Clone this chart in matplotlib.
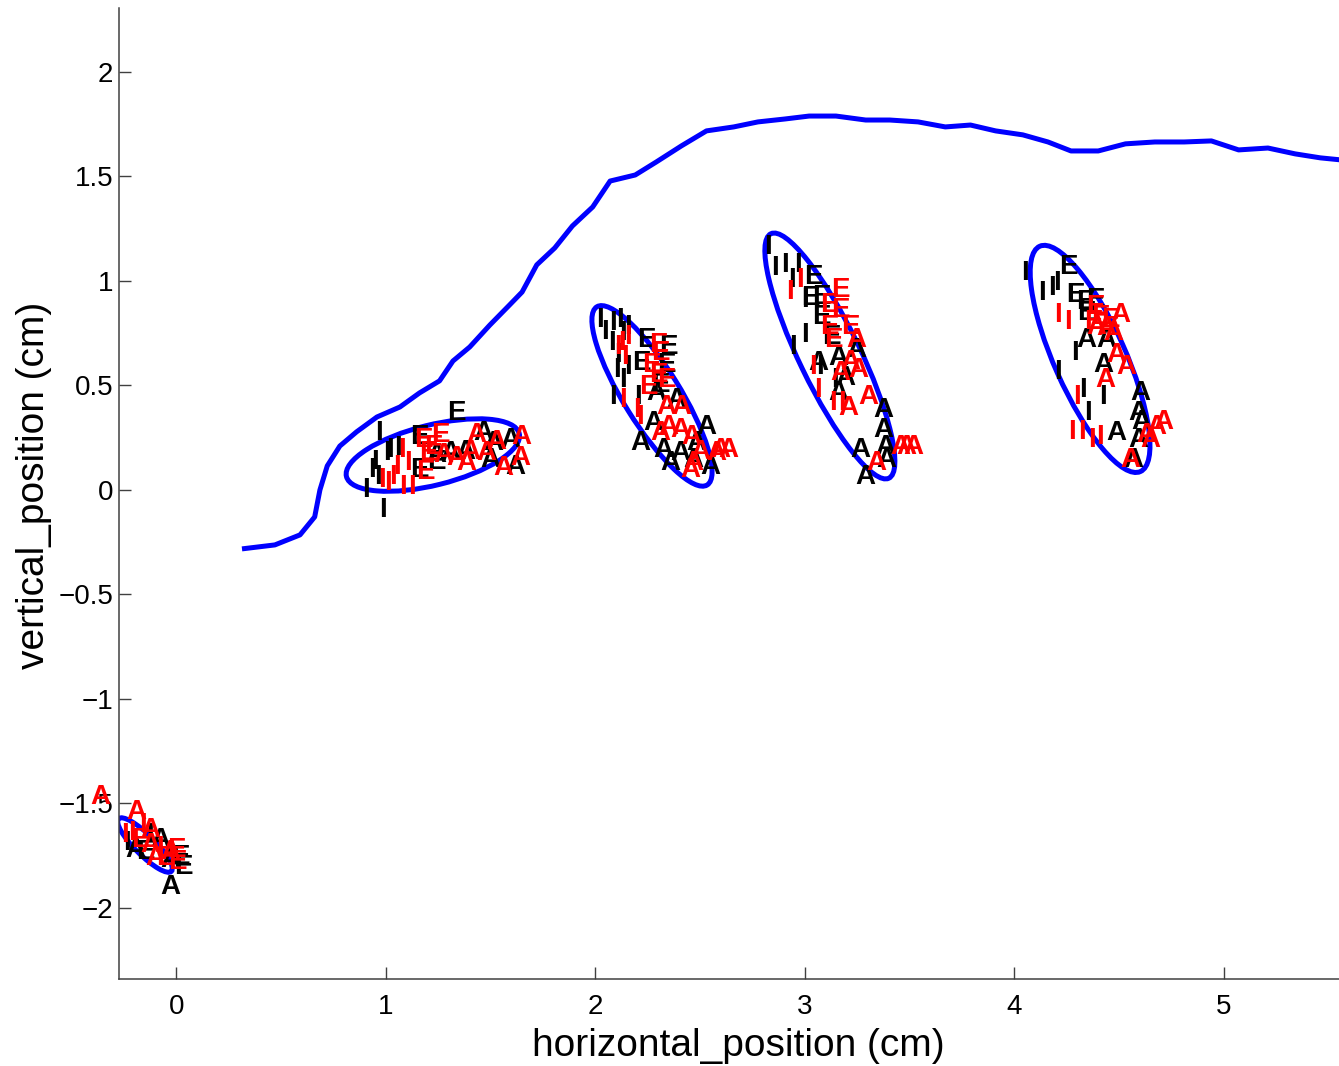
import numpy as np
import matplotlib
matplotlib.use('Agg')
import matplotlib.pyplot as plt
from matplotlib.patches import Ellipse

plt.rcParams['font.family'] = ['Liberation Sans', 'DejaVu Sans']

# pen trajectory
traj_x = [0.313, 0.47, 0.59, 0.66, 0.685, 0.72, 0.78, 0.86, 0.957, 1.067, 1.16, 1.256,
          1.32, 1.40, 1.496, 1.59, 1.65, 1.72, 1.806, 1.89, 1.987, 2.07, 2.19, 2.29,
          2.41, 2.53, 2.66, 2.776, 2.905, 3.02, 3.148, 3.29, 3.405, 3.54, 3.67, 3.79,
          3.91, 4.04, 4.16, 4.27, 4.40, 4.53, 4.67, 4.81, 4.94, 5.07, 5.21, 5.34,
          5.46, 5.55, 5.64]
traj_y = [-0.282, -0.263, -0.215, -0.129, 0.0, 0.115, 0.21, 0.278, 0.349, 0.397, 0.464, 0.522,
          0.617, 0.684, 0.789, 0.885, 0.947, 1.077, 1.158, 1.263, 1.354, 1.478, 1.507, 1.569,
          1.646, 1.718, 1.737, 1.761, 1.775, 1.789, 1.789, 1.770, 1.770, 1.761, 1.737, 1.746,
          1.718, 1.699, 1.665, 1.622, 1.622, 1.656, 1.665, 1.665, 1.670, 1.627, 1.636, 1.608,
          1.589, 1.58, 1.575]

# covariance ellipses: centre, semi axes, orientation (deg)
ell_cx = [-0.150, 1.224, 2.270, 3.119, 4.361]
ell_cy = [-1.699, 0.167, 0.450, 0.641, 0.627]
ell_a = [0.178, 0.425, 0.501, 0.649, 0.590]
ell_b = [0.048, 0.144, 0.134, 0.145, 0.170]
ell_ang = [-45, 14, -58.3, -64.3, -66]

black_I = [(0.968, 0.271), (0.948, 0.135), (1.003, 0.176), (1.019, 0.191), (0.963, 0.064),
           (0.905, 0.0), (0.932, 0.096), (0.987, -0.096), (1.059, 0.200),
           (2.022, 0.813), (2.045, 0.757), (2.085, 0.798), (2.117, 0.813), (2.157, 0.781),
           (2.133, 0.750), (2.077, 0.702), (2.109, 0.646), (2.157, 0.590), (2.101, 0.574),
           (2.133, 0.526), (2.085, 0.446), (2.204, 0.446),
           (2.825, 1.164), (2.857, 1.061), (2.905, 1.077), (2.968, 1.077), (2.936, 1.005),
           (3.000, 0.909), (2.944, 0.686), (3.000, 0.742), (3.072, 0.590), (3.143, 0.526),
           (4.050, 1.037), (4.130, 0.941), (4.178, 0.965), (4.201, 0.989), (4.265, 0.933),
           (4.289, 0.654), (4.209, 0.566), (4.328, 0.478), (4.352, 0.367), (4.424, 0.446),
           (-0.236, -1.689), (-0.126, -1.651)]
black_E = [(1.337, 0.367), (1.162, 0.096), (1.162, 0.255), (1.242, 0.135),
           (2.244, 0.718), (2.348, 0.686), (2.221, 0.606), (2.340, 0.598), (2.308, 0.502),
           (3.040, 1.021), (3.024, 0.917), (3.080, 0.925), (3.080, 0.829), (3.127, 0.733),
           (4.257, 1.068), (4.289, 0.933), (4.337, 0.901), (4.384, 0.909), (4.345, 0.845),
           (0.017, -1.756), (0.031, -1.804), (-0.150, -1.732)]
black_A = [(1.242, 0.167), (1.305, 0.176), (1.377, 0.183), (1.464, 0.271), (1.512, 0.223),
           (1.592, 0.239), (1.616, 0.111), (1.496, 0.144),
           (2.292, 0.463), (2.388, 0.431), (2.276, 0.319), (2.212, 0.223), (2.324, 0.191),
           (2.403, 0.176), (2.483, 0.223), (2.531, 0.303), (2.547, 0.111), (2.467, 0.144),
           (2.356, 0.128),
           (3.063, 0.606), (3.159, 0.630), (3.247, 0.670), (3.191, 0.534), (3.159, 0.463),
           (3.374, 0.383), (3.374, 0.287), (3.263, 0.191), (3.382, 0.207), (3.287, 0.064),
           (3.390, 0.144),
           (4.345, 0.718), (4.440, 0.718), (4.424, 0.598), (4.599, 0.463), (4.591, 0.367),
           (4.488, 0.271), (4.591, 0.239), (4.567, 0.144), (4.607, 0.327),
           (-0.031, -1.900), (-0.198, -1.722), (-0.079, -1.675), (-0.031, -1.770)]

red_I = [(1.075, 0.191), (1.106, 0.128), (1.123, 0.016), (1.035, 0.064), (1.011, 0.032),
         (0.979, 0.048), (1.051, 0.112), (1.083, 0.016),
         (2.109, 0.686), (2.125, 0.702), (2.157, 0.733), (2.141, 0.638), (2.133, 0.431),
         (2.197, 0.383), (2.212, 0.351),
         (2.928, 0.949), (2.976, 1.005), (3.040, 0.590), (3.064, 0.478), (3.135, 0.415),
         (3.175, 0.415),
         (4.209, 0.837), (4.257, 0.805), (4.297, 0.446), (4.273, 0.279), (4.321, 0.279),
         (4.368, 0.239), (4.408, 0.255),
         (-0.160, -1.603), (-0.212, -1.641), (-0.079, -1.713), (-0.246, -1.651)]
red_E = [(1.178, 0.239), (1.226, 0.207), (1.186, 0.088), (1.258, 0.263), (1.202, 0.176),
         (2.300, 0.694), (2.308, 0.654), (2.268, 0.598), (2.300, 0.550), (2.340, 0.526),
         (2.252, 0.494),
         (3.167, 0.957), (3.119, 0.885), (3.167, 0.861), (3.119, 0.781), (3.215, 0.781),
         (3.135, 0.718),
         (4.384, 0.877), (4.408, 0.829), (4.376, 0.805), (4.456, 0.813),
         (-0.174, -1.675), (-0.055, -1.761), (0.002, -1.722), (0.007, -1.780)]
red_A = [(1.274, 0.167), (1.337, 0.152), (1.401, 0.183), (1.433, 0.263), (1.528, 0.231),
         (1.481, 0.176), (1.560, 0.104), (1.648, 0.255), (1.640, 0.152), (1.385, 0.128),
         (2.340, 0.399), (2.411, 0.399), (2.348, 0.303), (2.403, 0.287), (2.459, 0.255),
         (2.308, 0.271), (2.499, 0.183), (2.594, 0.191), (2.634, 0.191), (2.451, 0.096),
         (2.578, 0.176), (2.467, 0.128),
         (3.215, 0.614), (3.254, 0.574), (3.167, 0.558), (3.302, 0.446), (3.207, 0.391),
         (3.342, 0.128), (3.453, 0.207), (3.485, 0.207), (3.517, 0.207), (3.247, 0.718),
         (4.504, 0.837), (4.440, 0.774), (4.488, 0.646), (4.536, 0.590), (4.432, 0.526),
         (4.392, 0.781), (4.472, 0.750), (4.679, 0.303), (4.710, 0.327), (4.647, 0.239),
         (4.551, 0.144), (4.631, 0.263),
         (-0.365, -1.469), (-0.189, -1.541), (-0.126, -1.627), (-0.126, -1.699),
         (-0.103, -1.761), (-0.031, -1.732)]

x_ticks = [0, 1, 2, 3, 4, 5]
x_ticklabels = ['0', '1', '2', '3', '4', '5']
y_ticks = [-2, -1.5, -1, -0.5, 0, 0.5, 1, 1.5, 2]
y_ticklabels = ['\u22122', '\u22121.5', '\u22121', '\u22120.5', '0', '0.5', '1', '1.5', '2']

W, H = 1339, 1066
fig = plt.figure(figsize=(W / 100, H / 100), dpi=100)
# axes box in pixels: left 119, right 1357 (runs past the edge), top 8, bottom 979
ax = fig.add_axes([119 / W, (H - 979) / H, (1357 - 119) / W, (979 - 8) / H])
ax.set_xlim(-0.274, 5.635)
ax.set_ylim(-2.340, 2.306)

ax.plot(traj_x, traj_y, color='#0000ff', lw=3.6, solid_capstyle='butt', zorder=2)

for cx, cy, a, b, ang in zip(ell_cx, ell_cy, ell_a, ell_b, ell_ang):
    ax.add_patch(Ellipse((cx, cy), 2 * a, 2 * b, angle=ang, fill=False,
                         edgecolor='#0000ff', lw=3.6, zorder=2))

def put_letters(pts, ch, col):
    for px, py in pts:
        ax.text(px, py, ch, color=col, fontsize=20, fontweight='bold',
                ha='center', va='center', zorder=3)

put_letters(black_I, 'I', 'black')
put_letters(black_E, 'E', 'black')
put_letters(black_A, 'A', 'black')
put_letters(red_I, 'I', '#ff0000')
put_letters(red_E, 'E', '#ff0000')
put_letters(red_A, 'A', '#ff0000')

ax.set_xticks(x_ticks, x_ticklabels)
ax.set_yticks(y_ticks, y_ticklabels)
ax.tick_params(direction='in', length=8.6, width=1.0, color='#404040',
               labelsize=20, labelcolor='black')
ax.tick_params(axis='x', pad=11)
ax.tick_params(axis='y', pad=4)
for side in ['top', 'right']:
    ax.spines[side].set_visible(False)
for side in ['left', 'bottom']:
    ax.spines[side].set_color('#404040')
    ax.spines[side].set_linewidth(1.1)

ax.set_xlabel('horizontal_position (cm)', fontsize=28)
ax.set_ylabel('vertical_position (cm)', fontsize=28)
ax.xaxis.set_label_coords((738 - 119) / 1238, (979 - 1046) / 971)
ax.xaxis.label.set_va('center')
ax.yaxis.set_label_coords((34 - 119) / 1238, (979 - 485) / 971)
ax.yaxis.label.set_va('center')

fig.savefig('out.png', dpi=100)
